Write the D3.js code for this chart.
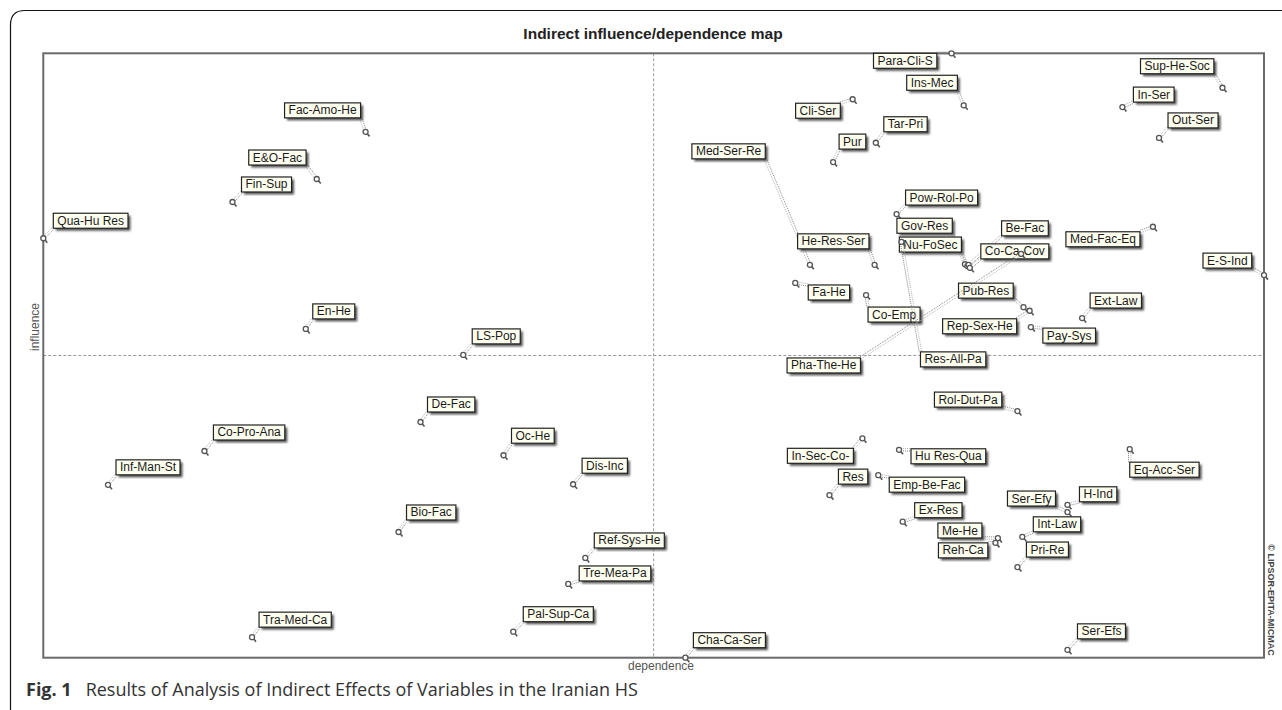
<!DOCTYPE html>
<html>
<head>
<meta charset="utf-8">
<script src="https://cdn.jsdelivr.net/npm/d3@7"></script>
<style>
  body { margin: 0; background: #fff; }
  svg text { font-family: "Liberation Sans", Arial, sans-serif; }
</style>
</head>
<body>
<svg id="chart" width="1282" height="710"></svg>
<script>
// variables of the MICMAC indirect analysis
var variables = ["Fac-Amo-He","E&O-Fac","Fin-Sup","Qua-Hu Res","En-He","LS-Pop","Co-Pro-Ana","Inf-Man-St",
  "De-Fac","Oc-He","Dis-Inc","Bio-Fac","Ref-Sys-He","Tre-Mea-Pa","Tra-Med-Ca","Pal-Sup-Ca","Cha-Ca-Ser",
  "Para-Cli-S","Ins-Mec","Cli-Ser","Pur","Tar-Pri","Med-Ser-Re","Pow-Rol-Po","Gov-Res","Nu-FoSec","Be-Fac",
  "Co-Ca-Cov","He-Res-Ser","Fa-He","Co-Emp","Pub-Res","Rep-Sex-He","Pay-Sys","Ext-Law","Med-Fac-Eq","E-S-Ind",
  "Sup-He-Soc","In-Ser","Out-Ser","Pha-The-He","Res-All-Pa","Rol-Dut-Pa","In-Sec-Co-","Res","Hu Res-Qua",
  "Emp-Be-Fac","Eq-Acc-Ser","Ex-Res","Me-He","Reh-Ca","Ser-Efy","H-Ind","Int-Law","Pri-Re","Ser-Efs"];

// dependence (x) and influence (y), 0-100 scale
var dependence = [26.4,22.4,15.5,0,21.5,34.4,13.2,5.3,
  30.9,37.7,43.4,29.1,44.4,43.0,17.1,38.5,52.6,
  74.4,75.4,66.3,64.7,68.2,62.8,69.9,75.5,75.7,75.8,
  75.9,68.1,61.6,67.4,80.3,80.8,80.9,85.1,90.9,100,
  96.6,88.4,91.4,80.1,70.3,79.8,67.1,64.4,70.1,
  68.4,89.0,70.4,78.2,78.0,83.9,83.9,80.2,79.8,83.9];

var influence = [87.0,79.2,75.4,69.4,54.4,50.1,34.2,28.6,
  39.0,33.5,28.7,20.8,16.5,12.2,3.4,4.3,0,
  100,91.4,92.4,82.0,85.2,65.0,73.4,65.1,64.8,65.0,
  64.5,65.0,62.0,60.0,58.0,57.4,54.7,56.2,71.3,63.3,
  94.3,91.1,86.0,66.8,68.8,40.8,36.3,26.9,34.4,
  30.2,34.5,22.5,19.8,19.0,24.1,25.3,20.0,15.0,1.3];

// quadrant separators (mean dependence / influence)
var meanDependence = 50;
var meanInfluence = 50;

// label box placement relative to its point (layout only)
var labelOffsets = [[-81,-29],[-68,-29],[9,-25],[10,-25],[7,-25],[9,-26],[9,-26],[8,-25],
  [7,-25],[8,-27],[9,-26],[8,-27],[9,-25],[11,-18],[7,-25],[10,-25],[8,-25],
  [-78,0],[-57,-30],[-57,4],[6,-28],[8,-26],[-118,-121],[9,-24],[-68,-46],[-68,-29],[33,-44],
  [11,-24],[-77,-31],[13,2],[2,12],[-65,-24],[-87,8],[12,1],[8,-25],[-87,5],[-61,-22],
  [-82,-29],[11,-20],[9,-25],[-234,104],[19,110],[-83,-19],[-75,10],[9,-26],[12,-1],
  [11,2],[0,13],[12,-19],[-60,-15],[-57,0],[-60,-21],[12,-18],[11,-20],[9,-25],[10,-26]];

var data = variables.map(function(name, i) {
  return { name: name, dep: dependence[i], inf: influence[i], off: labelOffsets[i] };
});

var svg = d3.select("#chart");
var plot = {left: 43.3, top: 53.3, right: 1264, bottom: 657.7};

// outer figure frame with rounded corner
svg.append("path")
  .attr("d", "M10.5,710 L10.5,25 Q10.5,10.5 25,10.5 L1282,10.5")
  .attr("fill", "none")
  .attr("stroke", "#111")
  .attr("stroke-width", 1.2);

// title
svg.append("text")
  .attr("x", 653).attr("y", 39)
  .attr("text-anchor", "middle")
  .style("font-size", "15.5px")
  .style("font-weight", "bold")
  .attr("fill", "#222")
  .text("Indirect influence/dependence map");

// scales
var x = d3.scaleLinear().domain([0, 100]).range([plot.left, plot.right]);
var y = d3.scaleLinear().domain([0, 100]).range([plot.bottom, plot.top]);

var defs = svg.append("defs");
defs.append("filter").attr("id", "blur")
  .append("feGaussianBlur").attr("stdDeviation", 0.9);

// quadrant lines
svg.append("line")
  .attr("x1", x(meanDependence)).attr("x2", x(meanDependence))
  .attr("y1", plot.top).attr("y2", plot.bottom)
  .attr("stroke", "#999").attr("stroke-dasharray", "3,2");
svg.append("line")
  .attr("x1", plot.left).attr("x2", plot.right)
  .attr("y1", y(meanInfluence)).attr("y2", y(meanInfluence))
  .attr("stroke", "#999").attr("stroke-dasharray", "3,2");

// plot frame
svg.append("rect")
  .attr("x", plot.left).attr("y", plot.top)
  .attr("width", plot.right - plot.left).attr("height", plot.bottom - plot.top)
  .attr("fill", "none").attr("stroke", "#6a6a6a").attr("stroke-width", 2);

// axis titles
svg.append("text")
  .attr("transform", "translate(39,327) rotate(-90)")
  .attr("text-anchor", "middle")
  .style("font-size", "12px")
  .attr("fill", "#555")
  .text("influence");
svg.append("text")
  .attr("x", 661).attr("y", 670)
  .attr("text-anchor", "middle")
  .style("font-size", "12px")
  .attr("fill", "#555")
  .text("dependence");
svg.append("text")
  .attr("transform", "translate(1268,600) rotate(90)")
  .attr("text-anchor", "middle")
  .style("font-size", "9px")
  .style("font-weight", "bold")
  .attr("fill", "#444")
  .text("\u00a9 LIPSOR-EPITA-MICMAC");

// one group per variable: label box, leader and marker
var nodes = svg.append("g").selectAll("g")
  .data(data)
  .enter().append("g");

nodes.each(function(d) {
  var g = d3.select(this);
  var px = x(d.dep), py = y(d.inf);
  var bx = px + d.off[0], by = py + d.off[1];

  var label = g.append("g").attr("transform", "translate(" + bx + "," + by + ")");
  var txt = label.append("text")
    .attr("x", 4).attr("y", 11.5)
    .style("font-size", "12px")
    .attr("fill", "#1a1a1a")
    .text(d.name);
  var w = txt.node().getComputedTextLength() + 8, h = 15;

  label.insert("rect", "text")
    .attr("x", 2.5).attr("y", 2.5).attr("width", w).attr("height", h)
    .attr("fill", "#555").attr("filter", "url(#blur)");
  label.insert("rect", "text")
    .attr("x", 0).attr("y", 0).attr("width", w).attr("height", h)
    .attr("fill", "#fffff0").attr("stroke", "#222").attr("stroke-width", 1.2);

  // leader: from point to nearest spot on the box
  var tx = Math.max(bx, Math.min(px, bx + w)), ty = Math.max(by, Math.min(py, by + h));
  var dx = tx - px, dy = ty - py, len = Math.sqrt(dx * dx + dy * dy) || 1;
  var nx = -dy / len * 1.2, ny = dx / len * 1.2;
  var lead = g.insert("g", ":first-child");
  [[nx, ny, "#777"], [-nx, -ny, "#aaa"]].forEach(function(o) {
    lead.append("line")
      .attr("x1", px + o[0]).attr("y1", py + o[1])
      .attr("x2", tx + o[0]).attr("y2", ty + o[1])
      .attr("stroke", o[2]).attr("stroke-width", 0.9)
      .attr("stroke-dasharray", "1,1");
  });

  // marker glyph
  g.append("line")
    .attr("x1", px + 1.5).attr("y1", py + 1.5).attr("x2", px + 4).attr("y2", py + 4.5)
    .attr("stroke", "#555").attr("stroke-width", 1.6);
  g.append("circle")
    .attr("cx", px).attr("cy", py).attr("r", 2.5)
    .attr("fill", "#fff").attr("stroke", "#555").attr("stroke-width", 1.3);
});

// caption
var cap = svg.append("text")
  .attr("x", 26).attr("y", 696)
  .style("font-family", "'Open Sans', sans-serif")
  .style("font-size", "18px")
  .attr("fill", "#333");
cap.append("tspan").style("font-weight", "bold").text("Fig. 1");
cap.append("tspan").attr("dx", 14).text("Results of Analysis of Indirect Effects of Variables in the Iranian HS");
</script>
</body>
</html>
